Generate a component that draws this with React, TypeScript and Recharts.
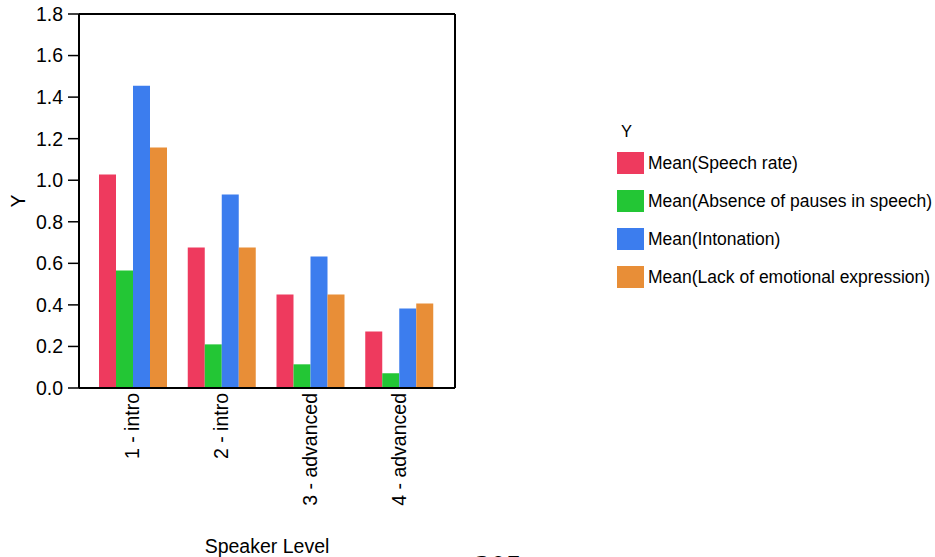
import { BarChart, Bar, XAxis, YAxis, CartesianGrid } from "recharts";

const levels = ["1 - intro", "2 - intro", "3 - advanced", "4 - advanced"];
const speechRate = [1.027, 0.676, 0.45, 0.272];
const absencePauses = [0.566, 0.21, 0.114, 0.071];
const intonation = [1.455, 0.931, 0.633, 0.383];
const lackEmotion = [1.157, 0.676, 0.45, 0.407];
const yTicks = [0, 0.2, 0.4, 0.6, 0.8, 1.0, 1.2, 1.4, 1.6, 1.8];

const series = [
  { key: "speech", name: "Mean(Speech rate)", color: "#EE3A5E", values: speechRate },
  { key: "pauses", name: "Mean(Absence of pauses in speech)", color: "#23C635", values: absencePauses },
  { key: "intonation", name: "Mean(Intonation)", color: "#3C7DEE", values: intonation },
  { key: "emotion", name: "Mean(Lack of emotional expression)", color: "#E88E37", values: lackEmotion },
];

const data = levels.map((level, i) => {
  const row: Record<string, string | number> = { level };
  series.forEach((s) => (row[s.key] = s.values[i]));
  return row;
});

const FONT = "'Liberation Sans', Arial, sans-serif";
const AXIS_FS = 19.5;

const LegendBox = () => (
  <div style={{ position: "absolute", left: 617, top: 121, fontFamily: FONT, color: "#000" }}>
    <div style={{ fontSize: 16.5, lineHeight: "20px", marginLeft: 4, height: 23 }}>Y</div>
    {series.map((s) => (
      <div key={s.key} style={{ display: "flex", alignItems: "center", height: 38 }}>
        <div style={{ width: 27, height: 22, background: s.color, marginRight: 4 }} />
        <span style={{ fontSize: 17.5, whiteSpace: "nowrap" }}>{s.name}</span>
      </div>
    ))}
  </div>
);

const XTick = (props: any) => {
  const { x, y, payload } = props;
  return (
    <text
      x={x}
      y={y}
      transform={`rotate(-90, ${x}, ${y})`}
      textAnchor="end"
      dominantBaseline="central"
      fontSize={AXIS_FS}
      fontFamily={FONT}
      fill="#000"
    >
      {payload.value}
    </text>
  );
};

export default function App() {
  return (
    <div
      style={{
        position: "absolute",
        left: 0,
        top: 0,
        width: 935,
        height: 557,
        overflow: "hidden",
        background: "#fff",
      }}
    >
      <BarChart
        width={470}
        height={557}
        data={data}
        margin={{ top: 14, right: 15, left: 0, bottom: 0 }}
        barCategoryGap={11}
        barGap={0}
      >
        <CartesianGrid
          stroke="#000"
          strokeWidth={2}
          horizontalCoordinatesGenerator={({ offset }: any) => [offset.top]}
          verticalCoordinatesGenerator={({ offset }: any) => [offset.left + offset.width]}
        />
        <XAxis
          dataKey="level"
          height={169}
          padding={{ left: 9, right: 12 }}
          tickLine={false}
          tickSize={0}
          tickMargin={5}
          axisLine={{ stroke: "#000", strokeWidth: 2 }}
          tick={<XTick />}
          interval={0}
          label={{
            value: "Speaker Level",
            position: "insideBottom",
            offset: 0,
            dy: -4,
            style: { fontSize: AXIS_FS, fontFamily: FONT, fill: "#000" },
          }}
        />
        <YAxis
          width={79}
          domain={[0, 1.8]}
          ticks={yTicks}
          interval={0}
          tickFormatter={(v: number) => v.toFixed(1)}
          tickSize={11}
          tickMargin={5}
          tickLine={{ stroke: "#000", strokeWidth: 1.5 }}
          axisLine={{ stroke: "#000", strokeWidth: 2 }}
          tick={{ fontSize: AXIS_FS, fontFamily: FONT, fill: "#000" }}
          label={{
            value: "Y",
            angle: -90,
            position: "insideLeft",
            offset: 18,
            style: { fontSize: AXIS_FS, fontFamily: FONT, fill: "#000", textAnchor: "middle" },
          }}
        />
        {series.map((s) => (
          <Bar key={s.key} dataKey={s.key} name={s.name} fill={s.color} isAnimationActive={false} />
        ))}
      </BarChart>
      <LegendBox />
      <div
        style={{
          position: "absolute",
          left: 475,
          top: 551,
          fontFamily: "'Liberation Serif', serif",
          fontSize: 31,
          lineHeight: "31px",
        }}
      >
        205
      </div>
    </div>
  );
}
